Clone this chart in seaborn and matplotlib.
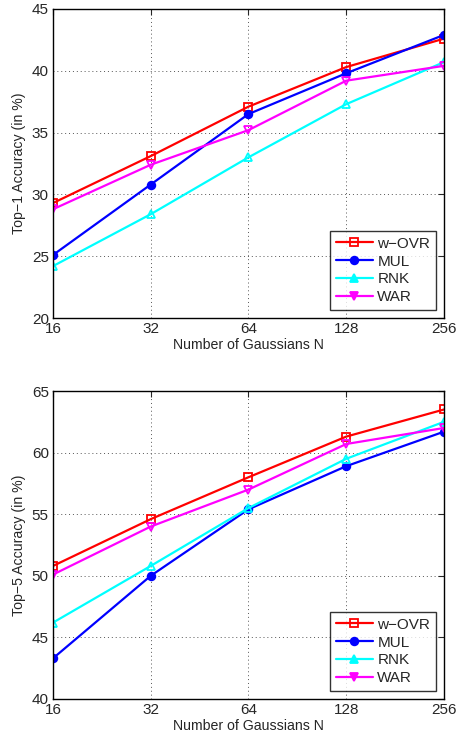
import pandas as pd
import matplotlib
matplotlib.use("Agg")
import matplotlib.pyplot as plt
import seaborn as sns

# values
n_gauss = [16, 32, 64, 128, 256]
methods = ["w\u2212OVR", "MUL", "RNK", "WAR"]

top1_wovr = [29.3, 33.1, 37.1, 40.3, 42.6]
top1_mul = [25.1, 30.8, 36.5, 39.8, 42.9]
top1_rnk = [24.2, 28.4, 33.0, 37.3, 40.7]
top1_war = [28.8, 32.4, 35.2, 39.2, 40.4]

top5_wovr = [50.8, 54.6, 58.0, 61.3, 63.5]
top5_mul = [43.3, 50.0, 55.4, 58.9, 61.7]
top5_rnk = [46.2, 50.8, 55.5, 59.5, 62.5]
top5_war = [50.1, 54.0, 57.0, 60.7, 62.0]

colors = ["#ff0000", "#0000ff", "#00ffff", "#ff00ff"]
markers = ["s", "o", "^", "v"]
hollow = [True, False, True, True]


def make_df(series):
    rows = []
    for m, vals in zip(methods, series):
        for n, v in zip(n_gauss, vals):
            rows.append({"N": n, "acc": v, "method": m})
    return pd.DataFrame(rows)


sns.set_style("white")
plt.rcParams["font.family"] = ["Liberation Sans", "DejaVu Sans"]

fig = plt.figure(figsize=(4.58, 7.35), dpi=100)
ax1 = fig.add_axes([0.1157, 0.5673, 0.8537, 0.4205])
ax2 = fig.add_axes([0.1157, 0.049, 0.8537, 0.419])

panels = [
    (ax1, [top1_wovr, top1_mul, top1_rnk, top1_war], (20, 45), "Top\u22121 Accuracy (in %)"),
    (ax2, [top5_wovr, top5_mul, top5_rnk, top5_war], (40, 65), "Top\u22125 Accuracy (in %)"),
]

for ax, series, ylim, ylabel in panels:
    df = make_df(series)
    sns.lineplot(data=df, x="N", y="acc", hue="method", style="method",
                 palette=colors, markers=markers, dashes=False,
                 linewidth=1.6, markersize=5.5, ax=ax, legend=False)
    # hollow markers like the MATLAB original
    for line, col, h in zip(ax.get_lines(), colors, hollow):
        line.set_markeredgecolor(col)
        line.set_markeredgewidth(1.3)
        line.set_markerfacecolor("none" if h else col)
    ax.set_xscale("log", base=2)
    ax.set_xlim(16, 256)
    ax.set_ylim(*ylim)
    ax.set_xticks(n_gauss)
    ax.set_xticklabels([str(n) for n in n_gauss])
    ax.set_yticks(range(ylim[0], ylim[1] + 1, 5))
    ax.minorticks_off()
    ax.grid(True, color="#555555", linestyle=(0, (1, 3)), linewidth=0.7)
    ax.tick_params(direction="in", top=True, right=True, labelsize=11,
                   length=4, width=0.8, pad=3)
    for sp in ax.spines.values():
        sp.set_color("black")
        sp.set_linewidth(1.0)
    ax.set_xlabel("Number of Gaussians N", fontsize=10.2, labelpad=1)
    ax.set_ylabel(ylabel, fontsize=10.2, labelpad=4)

    handles = []
    for m, col, mk, h in zip(methods, colors, markers, hollow):
        hd, = ax.plot([], [], color=col, marker=mk, linewidth=1.6, markersize=5.5,
                      markeredgecolor=col, markeredgewidth=1.3,
                      markerfacecolor=col if mk != "s" else "none", label=m)
        handles.append(hd)
    leg = ax.legend(handles=handles, loc="lower right", fontsize=11,
                    frameon=True, fancybox=False, borderaxespad=0.5,
                    handlelength=2.4, handletextpad=0.3, labelspacing=0.25,
                    borderpad=0.4)
    leg.get_frame().set_edgecolor("black")
    leg.get_frame().set_linewidth(1.0)

fig.savefig("out.png", dpi=100)
